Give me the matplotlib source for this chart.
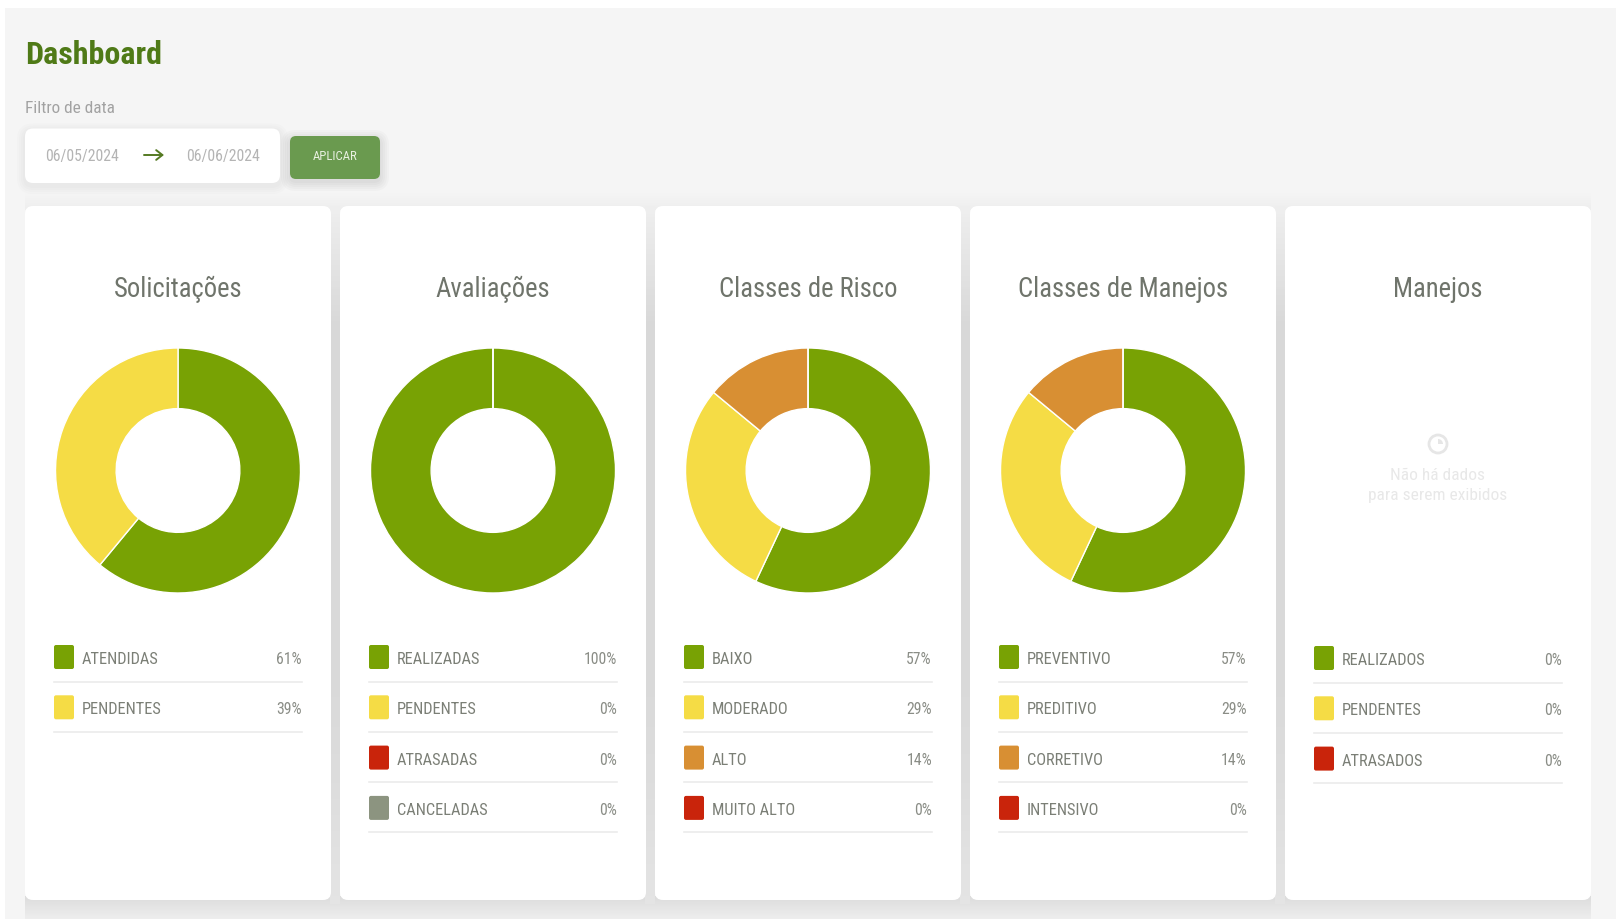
import matplotlib
matplotlib.use("Agg")
import matplotlib.pyplot as plt
import numpy as np
from matplotlib.colors import LinearSegmentedColormap
from matplotlib.patches import FancyBboxPatch, Rectangle, Circle, Wedge

W, H = 1620, 920
NARROW = "Roboto Condensed"

# ---- data ----
titles = ["Solicitações", "Avaliações", "Classes de Risco", "Classes de Manejos", "Manejos"]
labels_0 = ["ATENDIDAS", "PENDENTES"]
values_0 = [61, 39]
labels_1 = ["REALIZADAS", "PENDENTES", "ATRASADAS", "CANCELADAS"]
values_1 = [100, 0, 0, 0]
labels_2 = ["BAIXO", "MODERADO", "ALTO", "MUITO ALTO"]
values_2 = [57, 29, 14, 0]
labels_3 = ["PREVENTIVO", "PREDITIVO", "CORRETIVO", "INTENSIVO"]
values_3 = [57, 29, 14, 0]
labels_4 = ["REALIZADOS", "PENDENTES", "ATRASADOS"]
values_4 = [0, 0, 0]
date_from = "06/05/2024"
date_to = "06/06/2024"

GREEN, YELLOW, ORANGE, RED, GREY = "#78a204", "#f5dc45", "#d88f33", "#c9240b", "#8c9480"
colors_0 = [GREEN, YELLOW]
colors_1 = [GREEN, YELLOW, RED, GREY]
colors_2 = [GREEN, YELLOW, ORANGE, RED]
colors_3 = [GREEN, YELLOW, ORANGE, RED]
colors_4 = [GREEN, YELLOW, RED]

cards = [
    (titles[0], labels_0, values_0, colors_0),
    (titles[1], labels_1, values_1, colors_1),
    (titles[2], labels_2, values_2, colors_2),
    (titles[3], labels_3, values_3, colors_3),
    (titles[4], labels_4, values_4, colors_4),
]

fig = plt.figure(figsize=(W / 100, H / 100), dpi=100, facecolor="white")
bg = fig.add_axes([0, 0, 1, 1])
bg.set_xlim(0, W)
bg.set_ylim(H, 0)
bg.axis("off")


def rbox(x0, y0, x1, y1, r, fc, z=1, alpha=1.0):
    p = FancyBboxPatch((x0 + r, y0 + r), x1 - x0 - 2 * r, y1 - y0 - 2 * r,
                       boxstyle=f"round,pad={r},rounding_size={r}",
                       fc=fc, ec="none", alpha=alpha, zorder=z)
    bg.add_patch(p)


def shadow(x0, y0, x1, y1, r, dx, dy, spread, a, z=1):
    for i in range(spread, 0, -2):
        rbox(x0 + dx - i, y0 + dy - i, x1 + dx + i, y1 + dy + i, r + i, "black", z, a)


def grad(x0, y0, x1, y1, stops, vertical=True, z=2):
    cmap = LinearSegmentedColormap.from_list("g", stops)
    g = np.linspace(0, 1, 64)
    arr = g[:, None] if vertical else g[None, :]
    bg.imshow(arr, extent=(x0, x1, y1, y0), origin="upper", aspect="auto", cmap=cmap,
              vmin=0, vmax=1, zorder=z, interpolation="bilinear")


bg.add_patch(Rectangle((5, 9), W - 5 - 4, H - 9, fc="#f5f5f5", ec="none", zorder=0))

bg.text(25, 55, "Dashboard", family=NARROW, weight="bold", fontsize=23, color="#4f7a17",
        va="center", ha="left", zorder=5)
bg.text(25, 113, "Filtro de data", family=NARROW, fontsize=12.4, color="#a2a2a2",
        va="baseline", ha="left", zorder=5)

shadow(25, 129.5, 280, 184, 8, 0, 3, 8, 0.012, 4)
rbox(25, 129.5, 280, 184, 8, "white", 4)
bg.text(82, 156, date_from, family=NARROW, fontsize=11.3, color="#b4b4b4", ha="center", va="center", zorder=5)
bg.text(223, 156, date_to, family=NARROW, fontsize=11.3, color="#b4b4b4", ha="center", va="center", zorder=5)
bg.annotate("", xy=(164, 156), xytext=(144, 156), zorder=5,
            arrowprops=dict(arrowstyle="->,head_length=0.45,head_width=0.35", color="#557a22", lw=1.4,
                            shrinkA=0, shrinkB=0))

shadow(290, 137, 380, 180, 6, 0, 3, 9, 0.018, 4)
rbox(290, 137, 380, 180, 6, "#6a9a4f", 4)
bg.text(335, 156.5, "APLICAR", family=NARROW, fontsize=9.2, color="#e8f0e0", ha="center", va="center", zorder=5)

card_x = [25, 340, 655, 970, 1285]
card_w = 306
card_top, card_bot = 207, 901

# soft shadow above and below the row of cards, grey band in the gaps
row_x0, row_x1 = card_x[0], card_x[-1] + card_w
grad(row_x0, 194, row_x1, card_top + 4, ["#f5f5f5", "#eeeeee"])
grad(row_x0, card_bot - 4, row_x1, H, ["#dcdcdc", "#eeeeee"])
for x0 in card_x[1:]:
    grad(x0 - 10, card_top, x0, card_bot + 4,
         ["#eeeeee", "#d8d8d8", "#d9d9d9", "#d9d9d9", "#d9d9d9", "#dddddd", "#e4e4e4"])

for (title, labels, values, colors), x0 in zip(cards, card_x):
    rbox(x0, card_top, x0 + card_w, card_bot, 8, "white", 3)
    cx = x0 + card_w / 2
    bg.text(cx, 297, title, family=NARROW, fontsize=19.2, color="#6f746b", ha="center", va="baseline", zorder=5)

    if sum(values):
        cy, R = 471.5, 122.5
        ax = fig.add_axes([(cx - R) / W, 1 - (cy + R) / H, 2 * R / W, 2 * R / H], zorder=4)
        ax.pie(values, colors=colors, startangle=90, counterclock=False, radius=1,
               wedgeprops=dict(width=0.495, edgecolor="white", linewidth=1.0))
        ax.set_xlim(-1, 1)
        ax.set_ylim(-1, 1)
        ax.set_aspect("equal")
        dy = 0
    else:
        bg.add_patch(Circle((cx, 445), 9, fc="none", ec="#e6e6e6", lw=2, zorder=5))
        bg.add_patch(Wedge((cx, 445), 5, -90, 0, fc="#e6e6e6", ec="none", zorder=5))
        bg.text(cx, 476, "Não há dados", family=NARROW, fontsize=12.5, color="#e8e8e8",
                ha="center", va="center", zorder=5)
        bg.text(cx, 496, "para serem exibidos", family=NARROW, fontsize=12.5, color="#e8e8e8",
                ha="center", va="center", zorder=5)
        dy = 1

    sx0 = x0 + 29
    right = x0 + 277
    for i, (lab, val, col) in enumerate(zip(labels, values, colors)):
        yc = 658 + dy + i * 50.3
        rbox(sx0, yc - 12, sx0 + 20, yc + 12, 2, col, 5)
        bg.text(sx0 + 28, yc + 6, lab, family=NARROW, fontsize=11.8, color="#7b7f76",
                ha="left", va="baseline", zorder=5)
        bg.text(right, yc + 6, f"{val}%", family=NARROW, fontsize=11.3, color="#8a8d86",
                ha="right", va="baseline", zorder=5)
        bg.plot([sx0, right], [yc + 24.5, yc + 24.5], color="#ebebeb", lw=1.2, zorder=5)

bg.set_xlim(0, W)
bg.set_ylim(H, 0)
fig.savefig("out.png", dpi=100, facecolor="white")
